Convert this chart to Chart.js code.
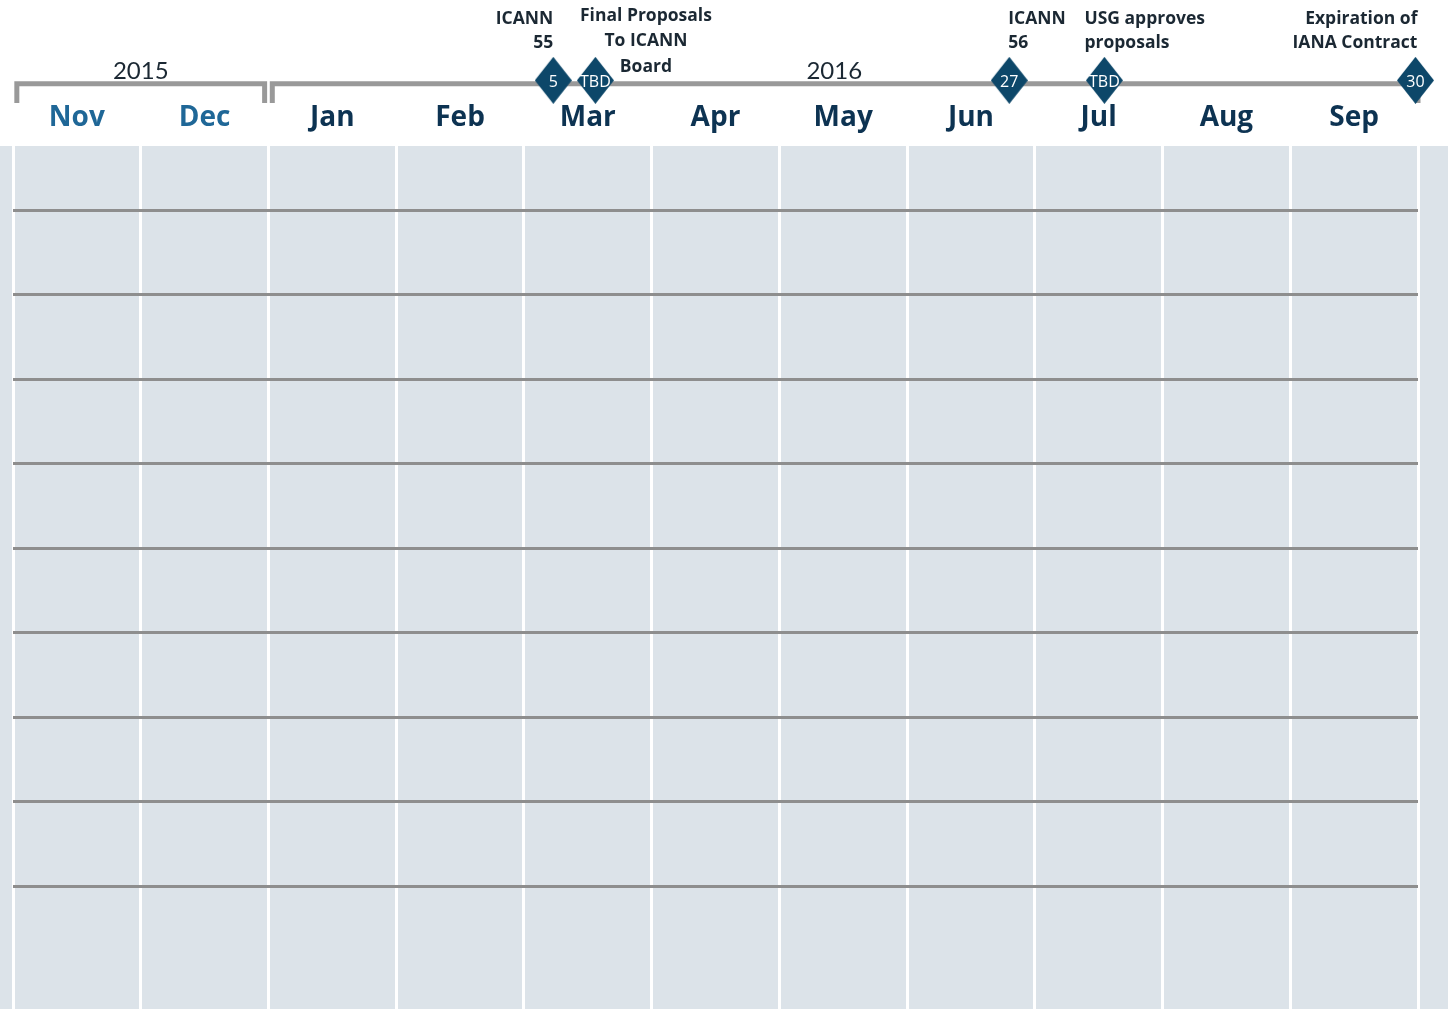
<!DOCTYPE html>
<html>
<head>
<meta charset="utf-8">
<title>IANA transition timeline</title>
<script src="https://cdn.jsdelivr.net/npm/chart.js@4/dist/chart.umd.min.js"></script>
<style>
  html, body { margin: 0; padding: 0; background: #fff; }
  canvas { display: block; }
</style>
</head>
<body>
<canvas id="timeline" width="1448" height="1009"></canvas>
<script>
// ── Data ──────────────────────────────────────────────────────────────────
const months     = ['Nov', 'Dec', 'Jan', 'Feb', 'Mar', 'Apr', 'May', 'Jun', 'Jul', 'Aug', 'Sep'];
const monthYears = [2015, 2015, 2016, 2016, 2016, 2016, 2016, 2016, 2016, 2016, 2016];
const years      = ['2015', '2016'];
const yearStart  = [0, 2];   // month index where each year bracket starts
const yearEnd    = [2, 11];

// milestone position in months since 1 Nov 2015
const milestoneX     = [4.23, 4.56, 7.80, 8.545, 10.98];
const milestoneBadge = ['5', 'TBD', '27', 'TBD', '30'];
const milestoneTitle = [
  ['ICANN', '55'],
  ['Final Proposals', 'To ICANN', 'Board'],
  ['ICANN', '56'],
  ['USG approves', 'proposals'],
  ['Expiration of', 'IANA Contract'],
];

// empty rows of the grid below the header
const rowLines = [1, 2, 3, 4, 5, 6, 7, 8, 9];

// ── Layout (not data) ─────────────────────────────────────────────────────
const titleLayout = [
  { align: 'right',  dx: 0,    top: 19.5, gap: 24 },
  { align: 'center', dx: 50.5, top: 16,   gap: 25.5 },
  { align: 'left',   dx: -1,   top: 19.5, gap: 24 },
  { align: 'left',   dx: -20,  top: 19.5, gap: 24 },
  { align: 'right',  dx: 2,    top: 19.5, gap: 24 },
];
const LINE_Y    = -0.5;    // timeline rail
const TICK_Y    = -0.272;  // bottom of bracket ticks
const DIAMOND_Y = -0.54;
const YEAR_Y    = -0.65;
const GRID_TOP  = 0.237;   // top of shaded grid
const INSET     = 0.03;    // gap between year brackets

const NAVY  = '#0d3352';
const BLUE  = '#1f6797';
const INK   = '#1b2833';
const RAIL  = '#999999';

// ── Diamond marker ────────────────────────────────────────────────────────
function makeDiamond(w, h, color) {
  const c = document.createElement('canvas');
  c.width = w; c.height = h;
  const g = c.getContext('2d');
  g.fillStyle = color;
  g.beginPath();
  g.moveTo(w / 2, 0);
  g.lineTo(w, h / 2);
  g.lineTo(w / 2, h);
  g.lineTo(0, h / 2);
  g.closePath();
  g.fill();
  return c;
}
const diamond = makeDiamond(37, 47, '#0d4769');

// ── Datasets ──────────────────────────────────────────────────────────────
const bracketSets = years.map((yr, i) => {
  const a = yearStart[i] + INSET, b = yearEnd[i] - (i === years.length - 1 ? 0 : INSET);
  return {
    type: 'line',
    label: yr,
    data: [{ x: a, y: TICK_Y }, { x: a, y: LINE_Y }, { x: b, y: LINE_Y }, { x: b, y: TICK_Y }],
    borderColor: RAIL,
    borderWidth: 5,
    borderJoinStyle: 'miter',
    borderCapStyle: 'butt',
    pointRadius: 0,
    tension: 0,
    clip: false,
    order: 2,
  };
});

const milestoneSet = {
  type: 'scatter',
  label: 'milestones',
  data: milestoneX.map(x => ({ x, y: DIAMOND_Y })),
  pointStyle: diamond,
  pointRadius: 20,
  clip: false,
  order: 0,
};

// ── Plugins ───────────────────────────────────────────────────────────────
const background = {
  id: 'background',
  beforeDraw(chart) {
    const { ctx, width, height, scales: { y } } = chart;
    ctx.save();
    ctx.fillStyle = '#ffffff';
    ctx.fillRect(0, 0, width, height);
    ctx.fillStyle = '#dce3e9';
    const top = y.getPixelForValue(GRID_TOP);
    ctx.fillRect(0, top, width, height - top);
    ctx.restore();
  },
};

const headerText = {
  id: 'headerText',
  afterDatasetsDraw(chart) {
    const { ctx, scales: { x, y } } = chart;
    ctx.save();

    // month names
    ctx.textAlign = 'center';
    ctx.textBaseline = 'alphabetic';
    ctx.font = 'bold 28px "Open Sans"';
    months.forEach((m, i) => {
      ctx.fillStyle = monthYears[i] === 2015 ? BLUE : NAVY;
      ctx.fillText(m, x.getPixelForValue(i + 0.5), y.getPixelForValue(0));
    });

    // year labels
    ctx.font = '24px Lato';
    ctx.fillStyle = INK;
    ctx.textBaseline = 'middle';
    years.forEach((yr, i) => {
      const cx = x.getPixelForValue((yearStart[i] + yearEnd[i]) / 2) - (i === 1 ? 9 : 0);
      ctx.fillText(yr, cx, y.getPixelForValue(YEAR_Y));
    });

    // milestone titles
    ctx.font = 'bold 17.5px "Open Sans"';
    milestoneTitle.forEach((lines, i) => {
      const lay = titleLayout[i];
      const px = x.getPixelForValue(milestoneX[i]) + lay.dx;
      ctx.textAlign = lay.align;
      lines.forEach((t, k) => ctx.fillText(t, px, lay.top + k * lay.gap));
    });

    // badge text inside diamonds
    ctx.font = '16px "Open Sans"';
    ctx.fillStyle = '#ffffff';
    ctx.textAlign = 'center';
    milestoneBadge.forEach((b, i) => {
      ctx.fillText(b, x.getPixelForValue(milestoneX[i]), y.getPixelForValue(DIAMOND_Y) + 2);
    });

    ctx.restore();
  },
};

// ── Chart ─────────────────────────────────────────────────────────────────
new Chart(document.getElementById('timeline'), {
  data: { datasets: [milestoneSet, ...bracketSets] },
  options: {
    responsive: false,
    animation: false,
    devicePixelRatio: 1,
    layout: { autoPadding: false, padding: { left: 13, right: 30, top: 0, bottom: 0 } },
    plugins: { legend: { display: false }, tooltip: { enabled: false } },
    scales: {
      x: {
        type: 'linear',
        min: 0,
        max: months.length,
        ticks: { display: false, stepSize: 1 },
        grid: { color: '#ffffff', lineWidth: 3, drawTicks: false },
        border: { display: false },
      },
      y: {
        type: 'linear',
        reverse: true,
        min: -1.491,
        max: 10.45,
        afterBuildTicks: axis => { axis.ticks = rowLines.map(v => ({ value: v })); },
        ticks: { display: false },
        grid: { color: '#8e8e8e', lineWidth: 3, drawTicks: false },
        border: { display: false },
      },
    },
  },
  plugins: [background, headerText],
});
</script>
</body>
</html>
